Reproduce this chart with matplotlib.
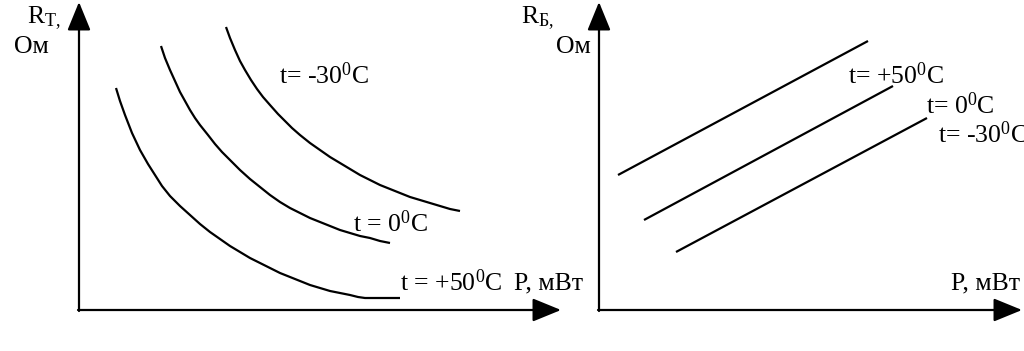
import matplotlib
matplotlib.use("Agg")
import matplotlib.pyplot as plt

plt.rcParams['font.family'] = ['Liberation Serif', 'DejaVu Serif']
plt.rcParams['mathtext.fontset'] = 'custom'
plt.rcParams['mathtext.rm'] = 'Liberation Serif'
plt.rcParams['mathtext.it'] = 'Liberation Serif'

# Left panel: R_T vs P curves (schematic coordinates)
left_p50_x = [116, 120, 125, 132, 140, 148, 155, 162, 170, 180, 190, 200, 210, 220, 230, 240, 250, 260, 270, 280, 290, 300, 310, 320, 330, 340, 350, 358, 365, 400]
left_p50_y = [88, 101, 115, 133, 150, 164, 175, 186, 196, 206, 215, 224, 232, 239, 246, 252, 258, 263, 268, 273, 277, 281, 285, 288, 291, 293, 295, 297, 298, 298]
left_0_x = [161, 165, 170, 175, 180, 185, 190, 195, 200, 208, 215, 222, 230, 240, 250, 260, 270, 280, 290, 300, 310, 320, 330, 340, 350, 360, 370, 380, 390]
left_0_y = [46, 58, 70, 81, 92, 101, 110, 118, 125, 135, 144, 152, 160, 170, 179, 187, 195, 202, 208, 213, 218, 222, 226, 230, 233, 236, 238, 241, 243]
left_m30_x = [226, 230, 235, 240, 245, 251, 257, 263, 270, 278, 285, 292, 300, 310, 320, 330, 340, 350, 360, 370, 380, 390, 400, 410, 420, 430, 440, 450, 460]
left_m30_y = [27, 38, 50, 61, 70, 80, 89, 97, 105, 114, 121, 128, 135, 143, 150, 157, 163, 169, 175, 180, 185, 189, 193, 197, 200, 203, 206, 209, 211]

# Right panel: R_B vs P lines
right_p50_x = [618, 868]
right_p50_y = [175, 41]
right_0_x = [644, 893]
right_0_y = [220, 86]
right_m30_x = [676, 927]
right_m30_y = [252, 118]

fig = plt.figure(figsize=(10.24, 3.51), dpi=100)
ax = fig.add_axes([0, 0, 1, 1])
ax.set_xlim(0, 1024)
ax.set_ylim(351, 0)
ax.axis('off')

lw = 1.6
for xs, ys in [(left_p50_x, left_p50_y), (left_0_x, left_0_y), (left_m30_x, left_m30_y),
               (right_p50_x, right_p50_y), (right_0_x, right_0_y), (right_m30_x, right_m30_y)]:
    ax.plot(xs, ys, color='black', lw=lw, solid_capstyle='butt', solid_joinstyle='round')

arrow = dict(arrowstyle='-|>,head_length=1.1,head_width=0.45', color='black', lw=lw,
             mutation_scale=16, shrinkA=0, shrinkB=0)
# left axes
ax.annotate('', xy=(79, 2), xytext=(79, 311), arrowprops=arrow)
ax.annotate('', xy=(561, 310), xytext=(78, 310), arrowprops=arrow)
# right axes
ax.annotate('', xy=(599, 2), xytext=(599, 311), arrowprops=arrow)
ax.annotate('', xy=(1022, 310), xytext=(598, 310), arrowprops=arrow)

fs = 18.5
ax.text(27, 18, 'R$_{\\mathrm{Т,}}$', fontsize=fs, va='center', ha='left')
ax.text(14, 47, 'Ом', fontsize=fs, va='center', ha='left')
ax.text(521, 18, 'R$_{\\mathrm{Б,}}$', fontsize=fs, va='center', ha='left')
ax.text(556, 47, 'Ом', fontsize=fs, va='center', ha='left')

ax.text(279, 76, 't= -30$^{0}$C', fontsize=fs, va='center', ha='left')
ax.text(353, 224, 't = 0$^{0}$C', fontsize=fs, va='center', ha='left')
ax.text(400, 283, 't = +50$^{0}$C', fontsize=fs, va='center', ha='left')
ax.text(514, 283, 'P, мВт', fontsize=fs, va='center', ha='left')

ax.text(848, 76, 't= +50$^{0}$C', fontsize=fs, va='center', ha='left')
ax.text(926, 106, 't= 0$^{0}$C', fontsize=fs, va='center', ha='left')
ax.text(938, 135, 't= -30$^{0}$C', fontsize=fs, va='center', ha='left')
ax.text(951, 283, 'P, мВт', fontsize=fs, va='center', ha='left')

fig.savefig('out.png', dpi=100)
